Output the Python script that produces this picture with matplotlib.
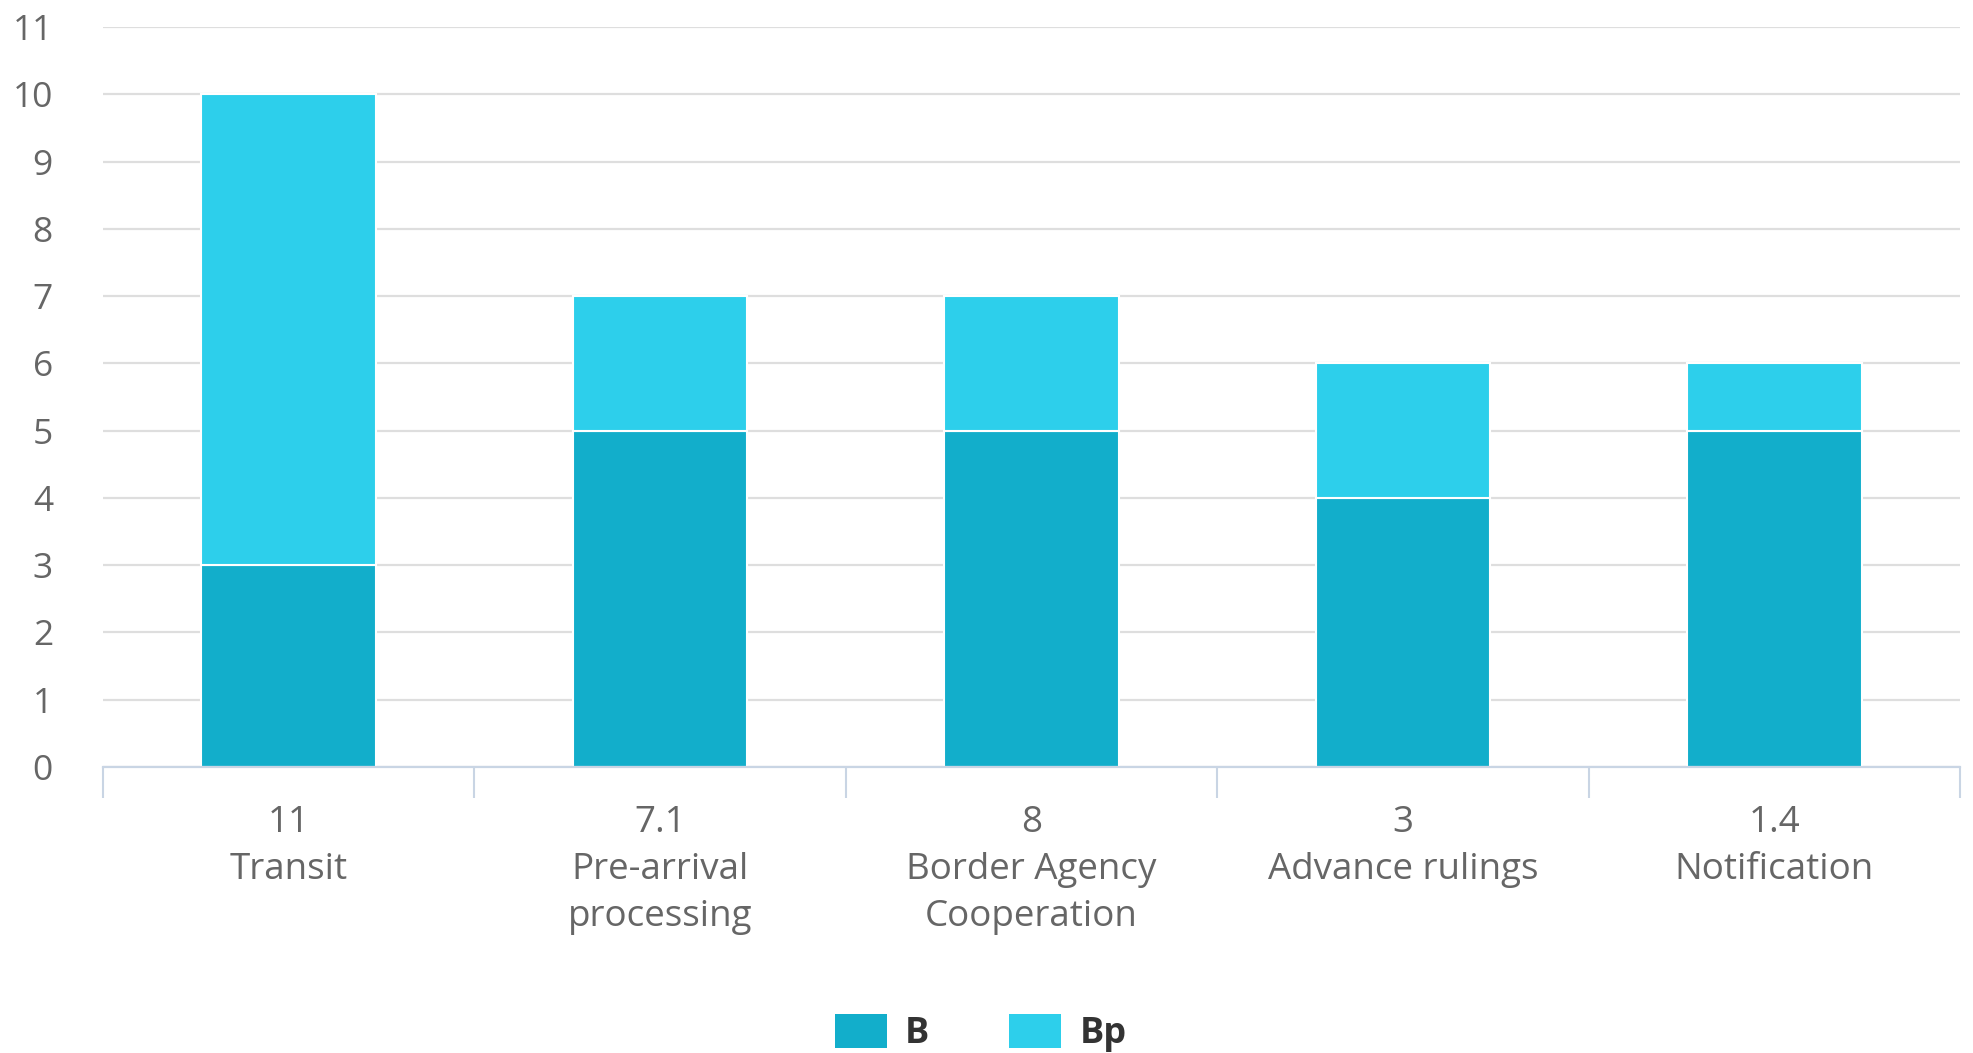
import matplotlib
matplotlib.use("Agg")
import matplotlib.pyplot as plt
from matplotlib.patches import Patch
import numpy as np

categories = ["Transit", "Pre-arrival\nprocessing", "Border Agency\nCooperation", "Advance rulings", "Notification"]
top_labels = ["11", "7.1", "8", "3", "1.4"]
b_values = [3, 5, 5, 4, 5]
bp_values = [7, 2, 2, 2, 1]
y_ticks = list(range(0, 12))

c_b = "#12AECB"
c_bp = "#2DCFEB"

plt.rcParams['font.family'] = ['Open Sans', 'DejaVu Sans']

fig = plt.figure(figsize=(19.73, 10.53), dpi=100)
ax = fig.add_axes([103/1973, 1-767/1053, (1960-103)/1973, (767-27)/1053])

x = np.arange(len(categories))
w = 0.47
ax.bar(x, b_values, width=w, color=c_b, edgecolor="white", linewidth=1.5, zorder=3)
ax.bar(x, bp_values, bottom=b_values, width=w, color=c_bp, edgecolor="white", linewidth=1.5, zorder=3)

ax.set_xlim(-0.5, len(categories)-0.5)
ax.set_ylim(0, 11)
ax.set_yticks(y_ticks)
ax.set_yticklabels([str(v) for v in y_ticks])
ax.yaxis.grid(True, color="#DEDEDE", linewidth=1.6, zorder=0)
ax.set_axisbelow(True)

for s in ["top", "right", "left"]:
    ax.spines[s].set_visible(False)
ax.spines["bottom"].set_color("#C9D5E4")
ax.spines["bottom"].set_linewidth(1.6)
ax.spines["bottom"].set_zorder(4)

ax.set_xticks(x)
ax.set_xticklabels([f"{t}\n{c}" for t, c in zip(top_labels, categories)], linespacing=1.42)
ax.set_xticks(np.arange(-0.5, len(categories), 1.0), minor=True)
ax.tick_params(axis="x", which="major", length=0, pad=27, labelsize=26.5, labelcolor="#666666")
ax.tick_params(axis="x", which="minor", length=22, width=1.5, color="#C9D5E4", direction="out")
ax.tick_params(axis="y", length=0, pad=36, labelsize=25.5, labelcolor="#666666")

handles = [Patch(facecolor=c_b, edgecolor="none", label="B"),
           Patch(facecolor=c_bp, edgecolor="none", label="Bp")]
leg = fig.legend(handles=handles, loc="center", bbox_to_anchor=(0.497, 1-1033/1053), ncol=2,
                 frameon=False, handlelength=1.45, handleheight=1.1, handletextpad=0.5,
                 columnspacing=2.2, prop={"size": 26, "weight": "bold"})
for t in leg.get_texts():
    t.set_color("#333333")

fig.savefig("out.png", dpi=100)
